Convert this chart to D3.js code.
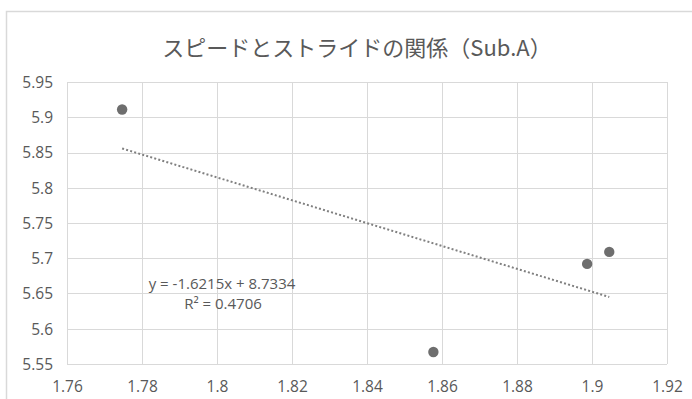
<!DOCTYPE html>
<html>
<head>
<meta charset="utf-8">
<script src="https://cdn.jsdelivr.net/npm/d3@7"></script>
<style>
  html, body { margin: 0; padding: 0; background: #fff; }
  svg { display: block; }
</style>
</head>
<body>
<svg id="chart" width="692" height="399"></svg>
<script>
// Speed (x) vs stride (y) for Sub.A
const speed  = [1.7747, 1.8577, 1.8987, 1.9046];
const stride = [5.911, 5.567, 5.692, 5.709];

const xTicks = [1.76, 1.78, 1.8, 1.82, 1.84, 1.86, 1.88, 1.9, 1.92];
const yTicks = [5.55, 5.6, 5.65, 5.7, 5.75, 5.8, 5.85, 5.9, 5.95];
const xTickLabels = ["1.76", "1.78", "1.8", "1.82", "1.84", "1.86", "1.88", "1.9", "1.92"];
const yTickLabels = ["5.55", "5.6", "5.65", "5.7", "5.75", "5.8", "5.85", "5.9", "5.95"];

// Linear trendline coefficients and fit
const trendSlope = -1.6215;
const trendIntercept = 8.7334;
const rSquared = 0.4706;

const titleText = "スピードとストライドの関係（Sub.A）";
const eqText = "y = -1.6215x + 8.7334";
const r2Label = "R² = 0.4706";

const svg = d3.select("#chart");
const W = 692, H = 399;
const plot = { left: 67, right: 667, top: 82, bottom: 364 };

const x = d3.scaleLinear().domain([1.76, 1.92]).range([plot.left, plot.right]);
const y = d3.scaleLinear().domain([5.55, 5.95]).range([plot.bottom, plot.top]);

const labelFont = "'Open Sans', 'Noto Sans', sans-serif";
const textColor = "#595959";
const gridColor = "#d9d9d9";

// chart frame
svg.append("rect")
  .attr("x", 6.5).attr("y", 11.5)
  .attr("width", W + 10).attr("height", H + 10)
  .attr("fill", "#fff")
  .attr("stroke", "#d9d9d9").attr("stroke-width", 1.5);

// title
svg.append("text")
  .attr("x", 357).attr("y", 56)
  .attr("text-anchor", "middle")
  .attr("font-family", "'Noto Sans CJK JP', sans-serif")
  .attr("font-size", 22)
  .attr("fill", textColor)
  .text(titleText);

// gridlines
const grid = svg.append("g").attr("stroke", gridColor).attr("stroke-width", 1);
grid.selectAll("line.v").data(xTicks).join("line")
  .attr("class", "v")
  .attr("x1", d => Math.round(x(d)) + 0.5).attr("x2", d => Math.round(x(d)) + 0.5)
  .attr("y1", plot.top).attr("y2", plot.bottom);
grid.selectAll("line.h").data(yTicks).join("line")
  .attr("class", "h")
  .attr("y1", d => Math.round(y(d)) + 0.5).attr("y2", d => Math.round(y(d)) + 0.5)
  .attr("x1", plot.left).attr("x2", plot.right);

// axes (labels only, no ticks)
const xAxis = d3.axisBottom(x).tickValues(xTicks)
  .tickFormat((d, i) => xTickLabels[i]).tickSize(0).tickPadding(0);
const gx = svg.append("g").attr("transform", `translate(0,${plot.bottom + 20})`).call(xAxis);
gx.select(".domain").remove();
gx.selectAll("text")
  .attr("font-family", labelFont).attr("font-size", 15.5)
  .attr("fill", textColor).attr("dy", "0.5em");

const yAxis = d3.axisLeft(y).tickValues(yTicks)
  .tickFormat((d, i) => yTickLabels[i]).tickSize(0).tickPadding(0);
const gy = svg.append("g").attr("transform", `translate(${plot.left - 14},0)`).call(yAxis);
gy.select(".domain").remove();
gy.selectAll("text")
  .attr("font-family", labelFont).attr("font-size", 15.5)
  .attr("fill", textColor).attr("dy", "0.35em");

// trendline across the data range
const xMin = d3.min(speed), xMax = d3.max(speed);
svg.append("line")
  .attr("x1", x(xMin)).attr("y1", y(trendSlope * xMin + trendIntercept))
  .attr("x2", x(xMax)).attr("y2", y(trendSlope * xMax + trendIntercept))
  .attr("stroke", "#808080").attr("stroke-width", 2)
  .attr("stroke-dasharray", "2 2.2");

// data points
svg.append("g").selectAll("circle").data(speed).join("circle")
  .attr("cx", d => x(d))
  .attr("cy", (d, i) => y(stride[i]))
  .attr("r", 5.2)
  .attr("fill", "#6e6e6e");

// trendline equation and R²
const eq = svg.append("g")
  .attr("font-family", labelFont).attr("font-size", 15)
  .attr("fill", textColor).attr("text-anchor", "middle");
eq.append("text").attr("x", 222).attr("y", 289).text(eqText);
eq.append("text").attr("x", 223).attr("y", 309).text(r2Label);
</script>
</body>
</html>
